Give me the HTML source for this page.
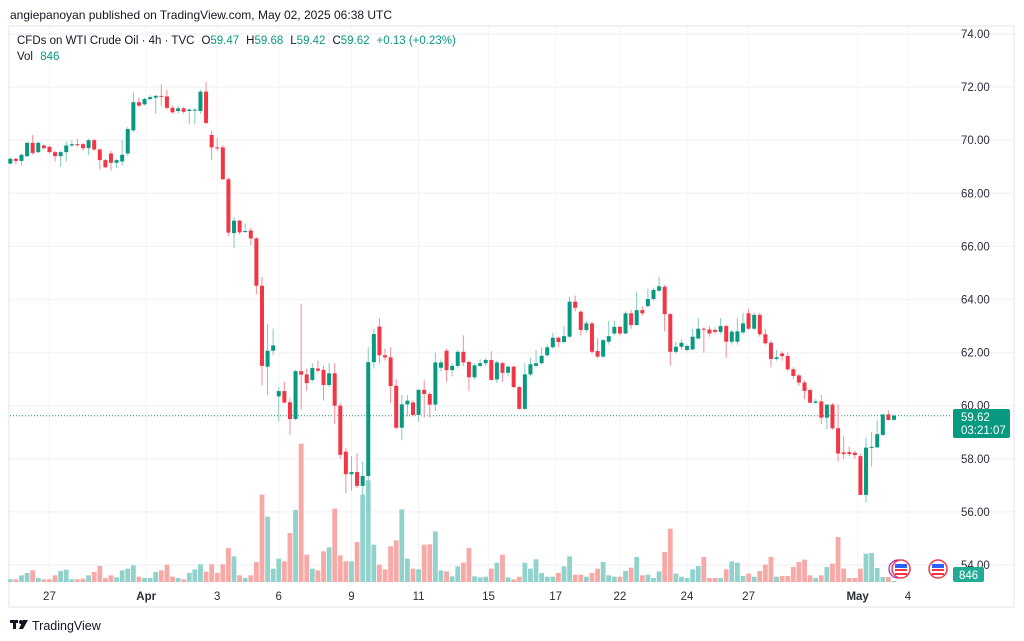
<!DOCTYPE html>
<html><head><meta charset="utf-8"><style>
body{margin:0;background:#fff;width:1024px;height:641px;overflow:hidden;font-family:"Liberation Sans",sans-serif}
svg{display:block}
text{font-family:"Liberation Sans",sans-serif}
</style></head><body>
<svg id="chart" width="1024" height="641" viewBox="0 0 1024 641" xmlns="http://www.w3.org/2000/svg">
<rect x="0" y="0" width="1024" height="641" fill="#ffffff"/>
<text x="10" y="19" font-size="12" fill="#131722">angiepanoyan published on TradingView.com, May 02, 2025 06:38 UTC</text>
<rect x="9" y="26" width="1005" height="581" fill="none" stroke="#e0e3eb" stroke-width="1"/>
<g id="grid"></g>
<g id="vols"></g>
<g id="candles"></g>
<g id="axis"></g>
<text x="17" y="44" font-size="11.5" fill="#131722">CFDs on WTI Crude Oil · 4h · TVC<tspan dx="7">O</tspan><tspan fill="#089981">59.47</tspan><tspan dx="7">H</tspan><tspan fill="#089981">59.68</tspan><tspan dx="7">L</tspan><tspan fill="#089981">59.42</tspan><tspan dx="7">C</tspan><tspan fill="#089981">59.62</tspan><tspan dx="7" fill="#089981">+0.13 (+0.23%)</tspan></text>
<text x="17" y="60" font-size="11.5" fill="#131722">Vol <tspan fill="#089981" dx="4">846</tspan></text>
<g>
<circle cx="898" cy="569" r="9" fill="none" stroke="#9c27b0" stroke-width="1.2"/>
<circle cx="901" cy="569" r="9" fill="#fff" stroke="#f23645" stroke-width="1.5"/>
<rect x="895" y="564" width="12" height="4" fill="#2962ff"/><rect x="895" y="569" width="12" height="2" fill="#f23645"/><rect x="895" y="573" width="12" height="2" fill="#f23645"/></g>
<g>
<circle cx="938" cy="569" r="9" fill="#fff" stroke="#f23645" stroke-width="1.5"/>
<rect x="932" y="564" width="12" height="4" fill="#2962ff"/><rect x="932" y="569" width="12" height="2" fill="#f23645"/><rect x="932" y="573" width="12" height="2" fill="#f23645"/></g>
<g><rect x="953" y="409" width="57" height="29" rx="2" fill="#089981"/>
<text x="961" y="421" font-size="11.5" fill="#fff">59.62</text><text x="961" y="434" font-size="11.5" fill="#fff">03:21:07</text></g>
<g><rect x="953" y="567" width="31" height="15" rx="2" fill="#22ab94"/><text x="959" y="579" font-size="11.5" fill="#fff">846</text></g>
<g><rect x="10" y="620" width="8" height="3" fill="#131722"/><rect x="13" y="620" width="3" height="9" fill="#131722"/><circle cx="21" cy="622" r="2" fill="#131722"/><polygon points="23,620 28,620 23,629 19,629" fill="#131722"/><text x="32" y="630" font-size="12.5" fill="#131722">TradingView</text></g>
</svg>
<script>
const opens=[69.12,69.3,69.22,69.4,69.9,69.55,69.8,69.75,69.55,69.4,69.55,69.8,69.85,69.85,69.7,70.0,69.65,69.25,69.5,69.15,69.2,69.5,70.37,71.43,71.35,71.55,71.6,71.67,71.65,71.22,71.1,71.2,71.1,71.15,71.1,71.83,70.2,69.73,69.73,68.53,66.5,66.97,66.58,66.6,66.3,64.52,61.47,62.07,60.35,60.55,60.13,59.5,61.3,61.18,60.97,61.4,61.35,60.78,61.22,60.0,58.27,57.42,57.5,56.98,57.35,61.64,62.98,61.9,61.82,60.75,59.17,60.05,60.12,59.65,60.6,60.44,60.04,61.43,62.07,61.34,61.5,62.03,61.65,61.07,61.5,61.6,61.72,60.99,61.6,61.24,61.47,60.7,59.88,61.18,61.5,61.6,61.9,62.2,62.56,62.4,62.6,63.92,63.54,62.85,63.1,62.06,61.85,62.41,62.72,62.97,62.72,63.48,63.04,63.6,63.75,64.02,64.33,64.48,63.45,62.03,62.22,62.1,62.12,62.53,62.9,62.87,62.85,62.78,63.0,62.41,62.41,62.76,63.48,62.9,63.42,62.69,62.37,61.76,61.97,61.87,61.37,61.14,60.87,60.59,60.11,60.16,59.55,60.04,59.15,58.24,58.25,58.23,58.1,56.64,58.42,58.43,58.9,59.67,59.47];
const highs=[69.35,69.33,69.5,69.95,70.2,69.95,69.85,69.8,69.6,69.6,69.95,70.0,70.05,69.9,70.05,70.05,69.7,69.3,69.6,69.3,70.0,70.5,71.8,71.6,71.6,71.7,71.7,72.1,71.9,71.3,71.3,71.25,71.2,71.2,71.9,72.2,70.35,70.1,69.8,68.6,67.1,67.0,66.85,66.7,66.35,64.85,63.1,62.9,60.7,60.9,60.3,61.35,63.85,61.4,61.6,61.7,61.5,61.6,61.6,60.1,58.4,58.1,58.2,57.9,62.2,62.9,63.3,62.15,62.2,61.0,60.4,60.4,60.2,60.6,60.95,60.5,62.0,61.75,62.15,61.6,62.1,62.65,61.7,61.6,61.75,61.8,62.05,61.7,61.65,61.5,61.5,60.75,61.6,61.8,62.1,62.2,62.3,62.75,62.6,63.0,64.1,64.15,63.6,63.2,63.15,62.55,62.5,63.2,63.2,63.0,63.55,63.6,64.3,63.75,64.4,64.45,64.85,64.55,63.5,62.4,62.5,62.3,62.9,63.3,62.95,63.0,62.95,63.3,63.05,62.85,63.3,63.5,63.65,63.5,63.5,62.9,62.45,62.1,62.05,62.0,61.45,61.2,60.95,60.65,60.25,60.4,60.05,60.1,60.05,58.85,58.45,58.3,58.2,58.8,59.0,59.45,59.7,59.83,59.68];
const lows=[69.1,69.1,69.05,69.35,69.45,69.5,69.65,69.5,69.2,69.0,69.2,69.75,69.75,69.6,69.45,69.6,68.9,68.95,68.85,68.95,69.05,69.4,70.3,71.25,71.3,71.5,71.0,71.3,71.15,71.0,71.0,71.0,70.6,70.6,71.0,70.6,69.25,69.6,68.5,66.4,65.95,66.45,66.5,66.05,64.2,60.77,60.4,61.9,59.4,60.1,58.9,59.45,59.85,60.55,60.9,61.25,60.2,60.7,59.3,58.0,56.7,56.8,56.9,56.5,56.0,61.4,61.6,61.7,60.1,59.1,58.7,59.6,59.6,59.4,59.55,59.55,59.8,61.3,60.9,61.1,61.4,61.5,60.55,61.0,61.45,61.5,60.95,60.85,60.9,61.1,60.65,59.85,59.85,61.1,61.45,61.55,61.85,62.15,62.2,62.35,62.55,63.55,62.65,62.75,61.95,61.8,61.8,62.3,62.65,62.65,62.7,62.9,63.0,63.4,63.7,63.95,64.3,62.8,61.5,61.95,62.1,62.05,62.1,62.5,62.0,62.6,62.7,62.7,61.8,62.3,62.3,62.7,62.85,62.85,62.6,62.3,61.45,61.7,61.7,61.3,61.0,60.75,60.25,60.1,60.08,59.3,59.1,59.1,57.9,58.0,58.1,58.0,56.64,56.35,57.7,58.4,58.85,59.45,59.42];
const closes=[69.3,69.22,69.45,69.9,69.52,69.9,69.7,69.55,69.4,69.55,69.8,69.85,69.83,69.7,70.0,69.65,69.25,68.98,69.15,69.25,69.45,70.42,71.43,71.3,71.55,71.62,71.67,71.65,71.22,71.05,71.2,71.07,71.15,71.15,71.83,70.65,69.73,69.72,68.53,66.52,66.97,66.53,66.58,66.3,64.52,61.5,62.07,62.27,60.55,60.12,59.5,61.3,61.17,60.85,61.42,61.32,60.78,61.22,60.0,58.15,57.42,57.5,56.98,57.35,61.64,62.7,61.9,61.82,60.74,59.17,60.05,60.19,59.65,60.6,60.44,60.04,61.63,61.63,61.34,61.5,62.03,61.63,61.07,61.52,61.6,61.72,60.97,61.63,61.24,61.47,60.7,59.88,61.18,61.56,61.6,61.88,62.2,62.56,62.4,62.62,63.92,63.69,62.85,63.1,62.03,61.85,62.47,62.62,62.97,62.72,63.48,63.04,63.6,63.48,64.02,64.36,64.5,63.45,62.03,62.22,62.37,62.25,62.6,62.9,62.88,62.72,62.78,63.0,62.41,62.79,62.8,63.1,62.9,63.42,62.69,62.35,61.76,61.82,61.87,61.37,61.12,60.87,60.56,60.11,60.16,59.55,60.04,59.15,58.2,58.18,58.18,58.14,56.64,58.42,58.45,58.93,59.67,59.46,59.62];
const volumes=[8,8,20,27,35,12,8,8,20,33,37,8,8,10,20,30,48,12,20,14,35,40,50,16,12,12,30,35,52,16,12,8,27,38,53,31,53,27,53,102,77,20,12,20,60,262,196,40,70,62,147,216,415,82,40,35,92,104,220,80,62,62,120,262,305,112,52,38,107,125,218,70,40,38,112,113,152,35,32,17,47,58,102,17,14,16,40,58,82,14,8,16,58,40,68,27,16,16,27,47,77,22,22,16,27,40,60,20,16,16,33,43,75,20,22,12,32,90,160,25,16,12,38,48,75,12,12,12,38,62,58,18,25,16,33,52,75,16,18,18,45,60,67,20,12,20,45,55,135,40,12,12,40,85,87,42,15,15,3];
const priceTicks=[74,72,70,68,66,64,62,60,58,56,54];
const dateLabels=["27","Apr","3","6","9","11","15","17","22","24","27","May","4"];
const dateIdx=[7,24.3,37,48,61,73,85.5,97.5,109,121,132,151.5,160.5];
const boldDates=["Apr","May"];

const NS="http://www.w3.org/2000/svg";
const xOf=i=>10.3+5.593*i;
const yOf=p=>34+(74-p)*26.55;
const vy=v=>582-v/3;
function mk(tag,attrs,parent){const e=document.createElementNS(NS,tag);for(const k in attrs)e.setAttribute(k,attrs[k]);parent.appendChild(e);return e;}
const grid=document.getElementById('grid'),axis=document.getElementById('axis'),vg=document.getElementById('vols'),cg=document.getElementById('candles');

priceTicks.forEach(p=>{
  const l=mk('line',{x1:10,x2:1013,y1:yOf(p),y2:yOf(p),stroke:'#f2f4f8','stroke-width':1.5},grid);
  
  
  const t=mk('text',{x:961,y:yOf(p)+4,'font-size':11.5,fill:'#2a2e39'},axis);
  t.textContent=p.toFixed(2);
  
  
});
dateLabels.forEach((d,k)=>{
  const x=xOf(dateIdx[k]);
  const l=mk('line',{x1:x,x2:x,y1:27,y2:585,stroke:'#f2f4f8','stroke-width':1},grid);
  
  
  const t=mk('text',{x:x,y:600,'font-size':11.5,fill:'#2a2e39','text-anchor':'middle','font-weight':boldDates.includes(d)?'bold':'normal'},axis);
  t.textContent=d;
  
  
});
const dl=mk('line',{x1:10,x2:950,y1:yOf(closes[closes.length-1]),y2:yOf(closes[closes.length-1]),stroke:'#089981','stroke-width':1,'stroke-dasharray':'1 2'},grid);



volumes.forEach((v,i)=>{
  const up=closes[i]>=opens[i];
  const r=mk('rect',{x:xOf(i)-2.4,y:vy(v),width:4.8,height:v/3,fill:up?'#92d2cc':'#f7a9a7'},vg);
  
  
});
opens.forEach((o,i)=>{
  const c=closes[i],up=c>=o,col=up?'#089981':'#f23645',wc=up?'#7fcbbf':'#f58c95';
  const g=mk('g',{},cg);
  
  
  const x=xOf(i);
  mk('line',{x1:x,x2:x,y1:yOf(highs[i]),y2:yOf(lows[i]),stroke:wc,'stroke-width':1},g);
  const top=yOf(Math.max(o,c)),bot=yOf(Math.min(o,c));
  mk('rect',{x:x-2,y:top,width:4,height:Math.max(1,bot-top),fill:col},g);
});
</script>
</body></html>
